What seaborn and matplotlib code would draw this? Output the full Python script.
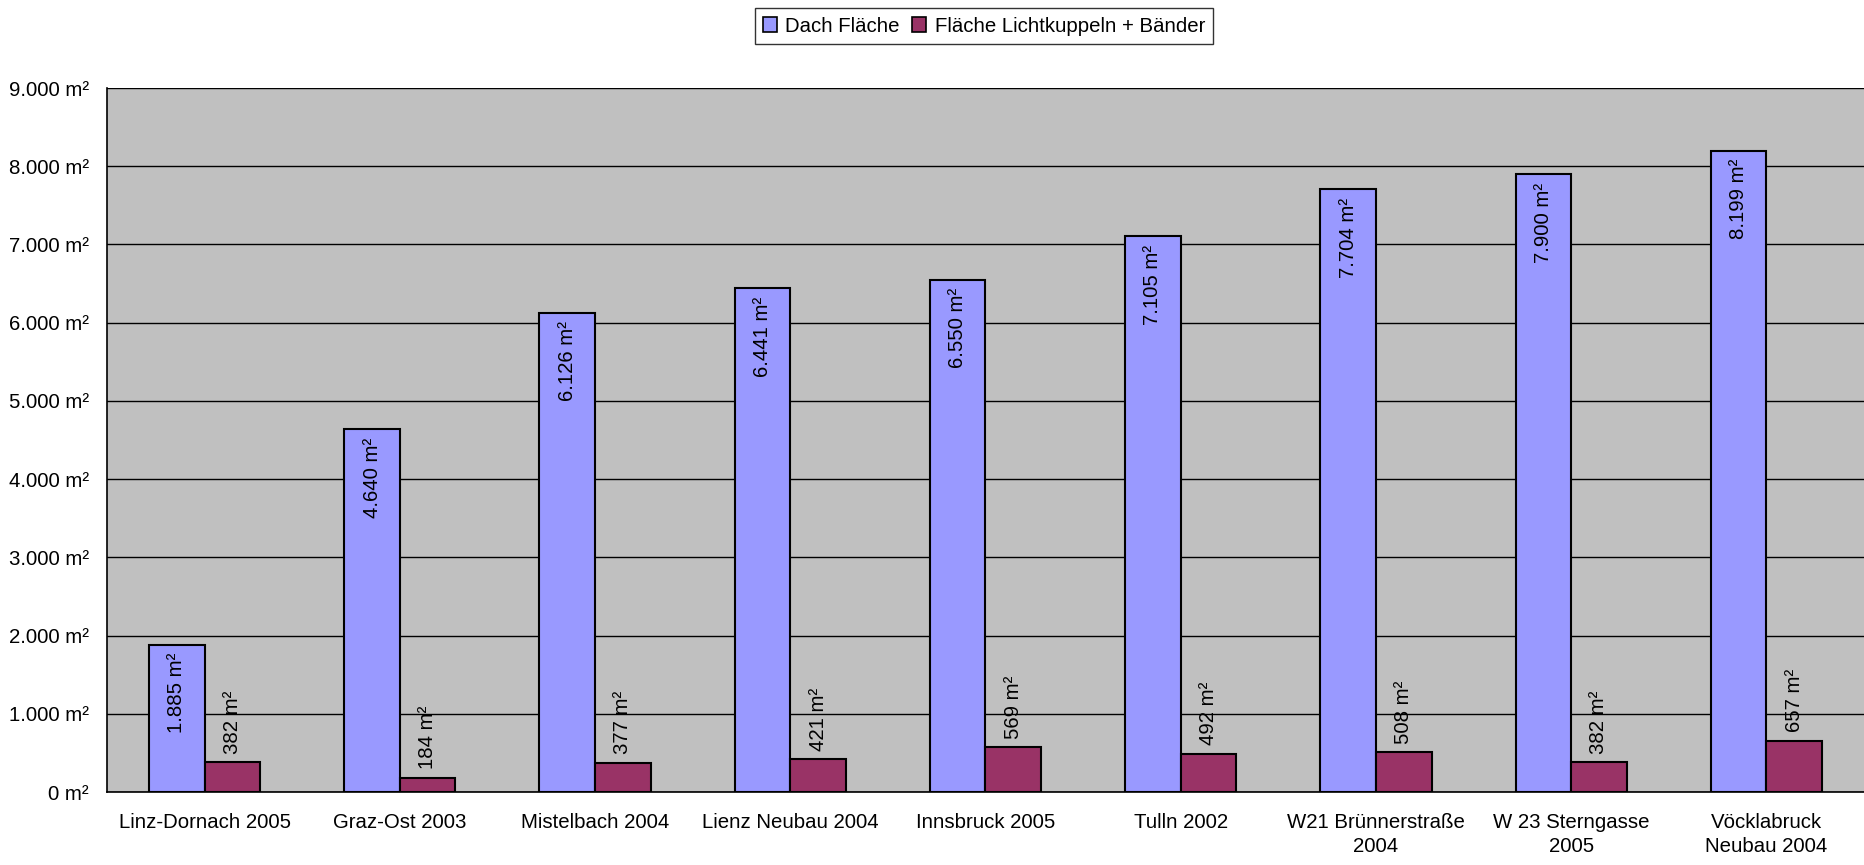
import matplotlib
matplotlib.use("Agg")
import matplotlib.pyplot as plt
import seaborn as sns
import pandas as pd
import numpy as np
from matplotlib.ticker import FuncFormatter, FixedLocator

categories = ["Linz-Dornach 2005", "Graz-Ost 2003", "Mistelbach 2004", "Lienz Neubau 2004",
              "Innsbruck 2005", "Tulln 2002", "W21 Brünnerstraße\n2004", "W 23 Sterngasse\n2005",
              "Vöcklabruck\nNeubau 2004"]
dach = [1885, 4640, 6126, 6441, 6550, 7105, 7704, 7900, 8199]
licht = [382, 184, 377, 421, 569, 492, 508, 382, 657]
series_names = ["Dach Fläche", "Fläche Lichtkuppeln + Bänder"]
yticks = [0, 1000, 2000, 3000, 4000, 5000, 6000, 7000, 8000, 9000]

FS = 14.7
sns.set_style("white")
plt.rcParams['font.family'] = ['Liberation Sans', 'DejaVu Sans']
plt.rcParams['font.size'] = FS
plt.rcParams['text.color'] = 'black'
plt.rcParams['xtick.color'] = 'black'
plt.rcParams['ytick.color'] = 'black'
plt.rcParams['xtick.labelcolor'] = 'black'
plt.rcParams['ytick.labelcolor'] = 'black'

df = pd.DataFrame({
    "cat": categories * 2,
    "val": dach + licht,
    "series": [series_names[0]] * len(dach) + [series_names[1]] * len(licht),
})

fig = plt.figure(figsize=(18.64, 8.65), dpi=100)
ax = fig.add_axes([107/1864, 1 - 792/865, 1 - 107/1864, (792 - 88)/865])
ax.set_facecolor("#C0C0C0")

sns.barplot(data=df, x="cat", y="val", hue="series", order=categories,
            hue_order=series_names, palette=["#9999FF", "#993366"], saturation=1,
            width=0.57, gap=0, edgecolor="black", linewidth=1.5,
            ax=ax, zorder=3, legend=True)

ax.set_ylim(0, 9000)
ax.set_xlim(-0.5, len(categories) - 0.5)
ax.set_yticks(yticks)
ax.yaxis.grid(True, color="black", linewidth=1, zorder=0)
ax.set_axisbelow(True)


def fmt(v, pos=None):
    return f"{int(v):,}".replace(",", ".") + " m²"


ax.yaxis.set_major_formatter(FuncFormatter(fmt))
ax.tick_params(axis="y", direction="out", length=6, width=1, color="black", pad=7,
               labelsize=FS, labelcolor="black")
ax.tick_params(axis="x", which="major", length=0, pad=15, labelsize=FS, labelcolor="black")
ax.xaxis.set_minor_locator(FixedLocator(np.arange(-0.5, len(categories), 1.0)))
ax.tick_params(axis="x", which="minor", direction="out", length=6, width=1, color="black")
for lbl in ax.get_xticklabels():
    lbl.set_linespacing(1.35)
ax.set_xlabel("")
ax.set_ylabel("")
for s in ["top", "right"]:
    ax.spines[s].set_visible(False)
for s in ["left", "bottom"]:
    ax.spines[s].set_color("black")
    ax.spines[s].set_linewidth(1.2)

# value labels
c_dach, c_licht = ax.containers[0], ax.containers[1]
for p, v in zip(c_dach, dach):
    ax.annotate(fmt(v), (p.get_x() + p.get_width() / 2, p.get_height()),
                xytext=(0, -6), textcoords="offset points", rotation=90,
                ha="center", va="top", fontsize=FS, color="black", zorder=5)
for p, v in zip(c_licht, licht):
    ax.annotate(fmt(v), (p.get_x() + p.get_width() / 2, p.get_height()),
                xytext=(0, 6), textcoords="offset points", rotation=90,
                ha="center", va="bottom", fontsize=FS, color="black", zorder=5)

leg = ax.legend(loc="center", bbox_to_anchor=(984/1864, 1 - 26/865),
                bbox_transform=fig.transFigure, ncol=2, frameon=True,
                fancybox=False, edgecolor="black", fontsize=FS,
                handlelength=0.7, handleheight=0.7, handletextpad=0.4,
                columnspacing=0.6, borderpad=0.4, title=None)
leg.get_frame().set_linewidth(1.0)
for t in leg.get_texts():
    t.set_color("black")
for h in leg.legend_handles:
    h.set_edgecolor("black")
    h.set_linewidth(1.2)

fig.savefig("out.png", dpi=100, facecolor="white")
